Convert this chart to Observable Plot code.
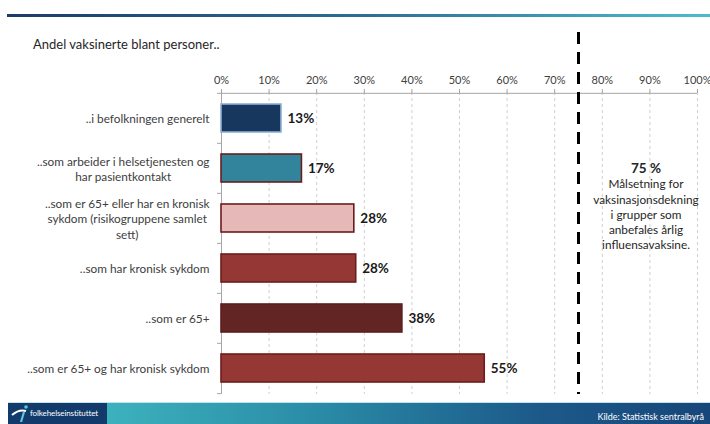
<!DOCTYPE html>
<html><head><meta charset="utf-8">
<script src="https://cdn.jsdelivr.net/npm/d3@7"></script>
<script src="https://cdn.jsdelivr.net/npm/@observablehq/plot@0.6"></script>
<style>
body{margin:0;background:#fff;}
#wrap{position:relative;width:710px;height:424px;overflow:hidden;font-family:Lato,"Open Sans",sans-serif;background:#fff;}
#wrap > svg{position:absolute;left:0;top:0;}
#topline{position:absolute;left:7px;top:14px;width:703px;height:3px;background:linear-gradient(to right,#1d3a6b,#2c6c97 50%,#4bbccb);}
#title{position:absolute;left:33px;top:36px;font-size:13px;color:#262626;}
#note{position:absolute;left:588px;top:161px;width:116px;text-align:center;font-size:11.8px;line-height:15.3px;color:#262626;}
#note b{font-size:13.5px;}
#footer{position:absolute;left:8px;top:402px;width:702px;height:22px;background:linear-gradient(to right,#3cb2bd 14%,#2a8aa6 45%,#1c5a8a 75%,#17467a);border-top:1px solid #bfe3e8;}
#logo{position:absolute;left:0;top:0;width:99px;height:22px;background:#123a6b;color:#fff;font-size:8px;}
#logo span{position:absolute;left:22px;top:5px;letter-spacing:-0.1px;}
#src{position:absolute;right:6px;top:8px;color:#fff;font-size:9px;}
</style></head><body><div id="wrap"></div>
<script>
const title = "Andel vaksinerte blant personer..";
const categories = [
  "..i befolkningen generelt",
  "..som arbeider i helsetjenesten og har pasientkontakt",
  "..som er 65+ eller har en kronisk sykdom (risikogruppene samlet sett)",
  "..som har kronisk sykdom",
  "..som er 65+",
  "..som er 65+ og har kronisk sykdom"
];
const categoryLines = [
  "..i befolkningen generelt",
  "..som arbeider i helsetjenesten og\nhar pasientkontakt",
  "..som er 65+ eller har en kronisk\nsykdom (risikogruppene samlet\nsett)",
  "..som har kronisk sykdom",
  "..som er 65+",
  "..som er 65+ og har kronisk sykdom"
];
const values = [12.6, 16.9, 27.9, 28.3, 38.0, 55.3];
const valueLabels = ["13%", "17%", "28%", "28%", "38%", "55%"];
const fills = ["#17375e", "#31849b", "#e6b9b8", "#953735", "#632523", "#953735"];
const strokes = ["#8eaed6", "#6b1d1c", "#6b1d1c", "#6b1d1c", "#5a1f1e", "#6b1d1c"];
const xTicks = [0, 10, 20, 30, 40, 50, 60, 70, 80, 90, 100];
const target = 75;
const targetLabel = "75 %";
const targetText = ["Målsetning for", "vaksinasjonsdekning", "i grupper som", "anbefales årlig", "influensavaksine."];
const source = "Kilde: Statistisk sentralbyrå";
const org = "folkehelseinstituttet";

const data = categories.map((c, i) => ({cat: c, v: values[i], label: valueLabels[i], fill: fills[i], stroke: strokes[i]}));
const lineOf = new Map(categories.map((c, i) => [c, categoryLines[i]]));

const W = 710, H = 424, mT = 92, mB = 30, mL = 221, mR = 13;
const step = (H - mT - mB) / categories.length;
const axisGray = "#a6a6a6";

const chart = Plot.plot({
  width: W, height: H,
  marginLeft: mL, marginRight: mR, marginTop: mT, marginBottom: mB,
  style: {fontFamily: "Lato, 'Open Sans', sans-serif", background: "transparent", overflow: "visible"},
  x: {domain: [0, 100]},
  y: {domain: categories, paddingInner: 0.44, paddingOuter: 0.22},
  color: {type: "identity"},
  marks: [
    Plot.gridX(xTicks, {stroke: "#cfcfcf", strokeOpacity: 1, strokeDasharray: "3,3"}),
    Plot.ruleY([categories[0]], {x1: 0, x2: 100, dy: -step / 2, stroke: axisGray}),
    Plot.ruleX([0], {stroke: axisGray}),
    Plot.ruleY(categories, {x1: 0, x2: 0, insetLeft: -4, dy: -step / 2, stroke: axisGray}),
    Plot.ruleY([categories[categories.length - 1]], {x1: 0, x2: 0, insetLeft: -4, dy: step / 2, stroke: axisGray}),
    Plot.axisX(xTicks, {anchor: "top", tickSize: 4, tickPadding: 5, stroke: axisGray, fill: "#404040", fontSize: 11, tickFormat: d => d + "%", label: null}),
    Plot.axisY({tickSize: 0, tickPadding: 12, fill: "#404040", fontSize: 11.8, lineHeight: 1.3, tickFormat: d => lineOf.get(d), label: null}),
    Plot.barX(data, {x: "v", y: "cat", fill: "fill", stroke: "stroke", strokeWidth: 1.6}),
    Plot.text(data, {x: "v", y: "cat", text: "label", textAnchor: "start", dx: 6, fontWeight: "bold", fontSize: 13.5, fill: "#1a1a1a"}),
    Plot.ruleX([target], {stroke: "#000", strokeWidth: 3, strokeDasharray: "12,8", insetTop: -(mT - 32)})
  ]
});

const wrap = document.getElementById("wrap");
const topLine = document.createElement("div"); topLine.id = "topline"; wrap.appendChild(topLine);
wrap.appendChild(chart);
const titleEl = document.createElement("div"); titleEl.id = "title"; titleEl.textContent = title; wrap.appendChild(titleEl);
const note = document.createElement("div"); note.id = "note";
note.innerHTML = "<b></b><br>"; note.querySelector("b").textContent = targetLabel;
targetText.forEach((s, i) => { note.appendChild(document.createTextNode(s)); if (i < targetText.length - 1) note.appendChild(document.createElement("br")); });
wrap.appendChild(note);
const footer = document.createElement("div"); footer.id = "footer";
footer.innerHTML = '<div id="logo"><svg width="20" height="22" style="position:absolute;left:2px;top:0"><path d="M2 12 Q9 6 16 8" stroke="#fff" stroke-width="2.2" fill="none"/><path d="M14 9 L11 19" stroke="#5cc6e0" stroke-width="2.2" fill="none"/><circle cx="16" cy="4" r="1.8" fill="#5cc6e0"/></svg><span></span></div><div id="src"></div>';
footer.querySelector("#logo span").textContent = org;
footer.querySelector("#src").textContent = source;
wrap.appendChild(footer);

// center multi-line y labels as blocks, right aligned
chart.querySelectorAll('[aria-label="y-axis tick label"] text').forEach(txt => {
  const spans = txt.querySelectorAll("tspan");
  if (spans.length < 2) return;
  let maxW = 0;
  spans.forEach(s => { maxW = Math.max(maxW, s.getComputedTextLength()); });
  txt.setAttribute("text-anchor", "middle");
  spans.forEach(s => s.setAttribute("x", -maxW / 2));
});
</script></body></html>
